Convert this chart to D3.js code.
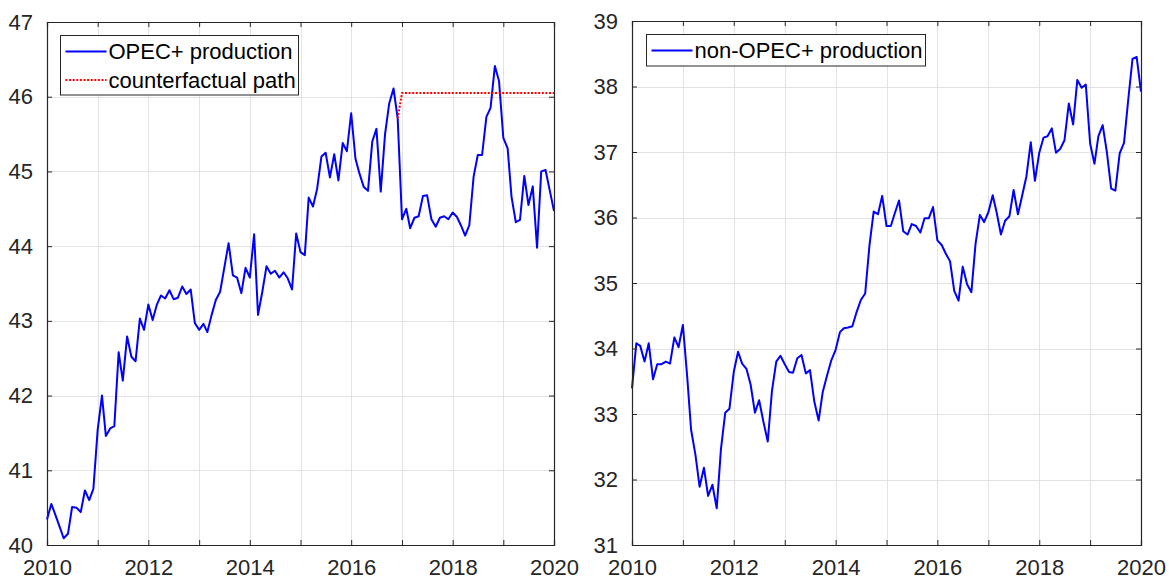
<!DOCTYPE html>
<html>
<head>
<meta charset="utf-8">
<style>
  body { margin: 0; background: #fff; }
  svg text { font-family: "Liberation Sans", Arial, Helvetica, sans-serif; }
</style>
</head>
<body>
<svg id="chart" width="1169" height="582"></svg>
<script src="https://d3js.org/d3.v7.min.js"></script>
<script>
// monthly data, Jan 2010 .. Jan 2020 (121 points)
var opecPlus = [
  40.34, 40.55, 40.41, 40.25, 40.09, 40.15, 40.51, 40.50, 40.44, 40.73, 40.60, 40.75,
  41.54, 42.00, 41.46, 41.56, 41.59, 42.58, 42.20, 42.79, 42.52, 42.46, 43.03, 42.88,
  43.22, 43.01, 43.21, 43.34, 43.30, 43.41, 43.29, 43.31, 43.46, 43.36, 43.42, 42.97,
  42.88, 42.96, 42.85, 43.08, 43.28, 43.39, 43.71, 44.04, 43.61, 43.58, 43.37, 43.71,
  43.58, 44.16, 43.08, 43.39, 43.73, 43.63, 43.67, 43.58, 43.65, 43.57, 43.42, 44.17,
  43.92, 43.88, 44.65, 44.53, 44.77, 45.20, 45.25, 44.92, 45.23, 44.88, 45.38, 45.27,
  45.78, 45.17, 44.97, 44.79, 44.74, 45.40, 45.57, 44.73, 45.50, 45.91, 46.11, 45.71,
  44.36, 44.50, 44.24, 44.38, 44.40, 44.67, 44.68, 44.36, 44.26, 44.38, 44.40, 44.36,
  44.45, 44.39, 44.28, 44.14, 44.28, 44.93, 45.22, 45.22, 45.73, 45.85, 46.41, 46.21,
  45.45, 45.31, 44.66, 44.32, 44.35, 44.94, 44.55, 44.80, 43.98, 45.00, 45.02, 44.75,
  44.47
];

var nonOpecPlus = [
  33.39, 34.08, 34.04, 33.80, 34.08, 33.53, 33.76, 33.76, 33.80, 33.77, 34.17, 34.02,
  34.36, 33.57, 32.76, 32.38, 31.89, 32.18, 31.75, 31.92, 31.56, 32.46, 33.02, 33.08,
  33.64, 33.95, 33.77, 33.69, 33.45, 33.02, 33.21, 32.88, 32.58, 33.35, 33.80, 33.89,
  33.76, 33.64, 33.63, 33.85, 33.90, 33.62, 33.67, 33.19, 32.90, 33.34, 33.59, 33.82,
  33.98, 34.25, 34.31, 34.32, 34.34, 34.56, 34.74, 34.84, 35.58, 36.09, 36.05, 36.33,
  35.87, 35.87, 36.06, 36.26, 35.79, 35.74, 35.90, 35.87, 35.77, 35.99, 35.99, 36.16,
  35.65, 35.58, 35.45, 35.33, 34.88, 34.73, 35.25, 34.98, 34.86, 35.60, 36.04, 35.93,
  36.08, 36.34, 36.08, 35.74, 35.95, 36.02, 36.42, 36.05, 36.34, 36.63, 37.15, 36.56,
  36.99, 37.22, 37.24, 37.36, 36.99, 37.05, 37.18, 37.74, 37.42, 38.10, 37.98, 38.03,
  37.13, 36.82, 37.24, 37.41, 37.00, 36.44, 36.41, 36.98, 37.14, 37.79, 38.42, 38.45,
  37.92
];

// counterfactual path, Dec 2016 .. Jan 2020
var counterfactualStart = new Date(2016, 11, 1);
var counterfactual = [
  45.71,
  46.05, 46.05, 46.05, 46.05, 46.05, 46.05, 46.05, 46.05, 46.05, 46.05, 46.05, 46.05,
  46.05, 46.05, 46.05, 46.05, 46.05, 46.05, 46.05, 46.05, 46.05, 46.05, 46.05, 46.05,
  46.05, 46.05, 46.05, 46.05, 46.05, 46.05, 46.05, 46.05, 46.05, 46.05, 46.05, 46.05,
  46.05
];

var xTickYears = [2010, 2011, 2012, 2013, 2014, 2015, 2016, 2017, 2018, 2019, 2020];
var leftYTicks = [40, 41, 42, 43, 44, 45, 46, 47];
var rightYTicks = [31, 32, 33, 34, 35, 36, 37, 38, 39];

var months = d3.timeMonth.range(new Date(2010, 0, 1), new Date(2020, 1, 1));
var cfMonths = d3.timeMonth.range(counterfactualStart, new Date(2020, 1, 1));

var svg = d3.select("#chart");
var axisColor = "#262626";
var gridColor = "#e3e3e3";
var fontSize = 22;

function panel(opts) {
  var x = d3.scaleTime()
    .domain([new Date(2010, 0, 1), new Date(2020, 0, 1)])
    .range([opts.left, opts.right]);
  var y = d3.scaleLinear()
    .domain(opts.yDomain)
    .range([opts.bottom, opts.top]);

  var g = svg.append("g");
  var tickDates = xTickYears.map(function(yr){ return new Date(yr, 0, 1); });

  // grid
  g.selectAll(".vgrid").data(tickDates).enter().append("line")
    .attr("x1", function(d){ return Math.round(x(d)) + 0.5; })
    .attr("x2", function(d){ return Math.round(x(d)) + 0.5; })
    .attr("y1", opts.top).attr("y2", opts.bottom)
    .attr("stroke", gridColor).attr("stroke-width", 1);
  g.selectAll(".hgrid").data(opts.yTicks).enter().append("line")
    .attr("y1", function(d){ return Math.round(y(d)) + 0.5; })
    .attr("y2", function(d){ return Math.round(y(d)) + 0.5; })
    .attr("x1", opts.left).attr("x2", opts.right)
    .attr("stroke", gridColor).attr("stroke-width", 1);

  // lines
  var line = d3.line()
    .x(function(d){ return x(d[0]); })
    .y(function(d){ return y(d[1]); });

  g.append("path")
    .datum(months.map(function(m, i){ return [m, opts.values[i]]; }))
    .attr("d", line)
    .attr("fill", "none")
    .attr("stroke", "#0000ff")
    .attr("stroke-width", 2)
    .attr("stroke-linejoin", "round");

  if (opts.cf) {
    g.append("path")
      .datum(cfMonths.map(function(m, i){ return [m, opts.cf[i]]; }))
      .attr("d", line)
      .attr("fill", "none")
      .attr("stroke", "#ff0000")
      .attr("stroke-width", 2)
      .attr("stroke-dasharray", "2,1.6");
  }

  // axes with inward ticks, boxed
  var tickLen = 5;
  var xb = d3.axisBottom(x).tickValues(tickDates).tickSize(-tickLen).tickPadding(14)
    .tickFormat(function(d){ return d.getFullYear() % 2 === 0 ? d.getFullYear() : ""; });
  var xt = d3.axisTop(x).tickValues(tickDates).tickSize(-tickLen).tickFormat("");
  var yl = d3.axisLeft(y).tickValues(opts.yTicks).tickSize(-tickLen).tickPadding(14)
    .tickFormat(d3.format("d"));
  var yr = d3.axisRight(y).tickValues(opts.yTicks).tickSize(-tickLen).tickFormat("");

  [[xb, "translate(0," + opts.bottom + ")"], [xt, "translate(0," + opts.top + ")"],
   [yl, "translate(" + opts.left + ",0)"], [yr, "translate(" + opts.right + ",0)"]]
    .forEach(function(a){
      var ax = g.append("g").attr("transform", a[1]).call(a[0]);
      ax.select(".domain").attr("stroke", axisColor).attr("stroke-width", 1.2);
      ax.selectAll(".tick line").attr("stroke", axisColor).attr("stroke-width", 1);
      ax.selectAll("text")
        .attr("fill", axisColor)
        .style("font-size", fontSize + "px")
        .style("font-family", "'Liberation Sans', Arial, sans-serif");
    });

  // legend
  var lg = opts.legend;
  var lgG = g.append("g");
  lgG.append("rect")
    .attr("x", lg.x).attr("y", lg.y)
    .attr("width", lg.w).attr("height", lg.h)
    .attr("fill", "#fff").attr("stroke", axisColor).attr("stroke-width", 1);
  lg.items.forEach(function(it, i){
    var cy = lg.y + lg.firstRow + i * lg.rowH;
    lgG.append("line")
      .attr("x1", lg.x + 5).attr("x2", lg.x + 46)
      .attr("y1", cy).attr("y2", cy)
      .attr("stroke", it.color).attr("stroke-width", 2)
      .attr("stroke-dasharray", it.dash || null);
    lgG.append("text")
      .attr("x", lg.x + 48).attr("y", cy)
      .attr("dy", "0.36em")
      .style("font-size", fontSize + "px")
      .attr("fill", "#000")
      .text(it.label);
  });
}

panel({
  left: 47, right: 554, top: 22, bottom: 545,
  yDomain: [40, 47], yTicks: leftYTicks,
  values: opecPlus, cf: counterfactual,
  legend: { x: 60.5, y: 35.5, w: 238, h: 59.5, firstRow: 16, rowH: 28.5,
    items: [
      { label: "OPEC+ production", color: "#0000ff" },
      { label: "counterfactual path", color: "#ff0000", dash: "2,1.6" }
    ] }
});

panel({
  left: 632, right: 1141, top: 21, bottom: 545,
  yDomain: [31, 39], yTicks: rightYTicks,
  values: nonOpecPlus, cf: null,
  legend: { x: 646.5, y: 34.5, w: 279, h: 31.5, firstRow: 16, rowH: 28.5,
    items: [
      { label: "non-OPEC+ production", color: "#0000ff" }
    ] }
});
</script>
</body>
</html>
